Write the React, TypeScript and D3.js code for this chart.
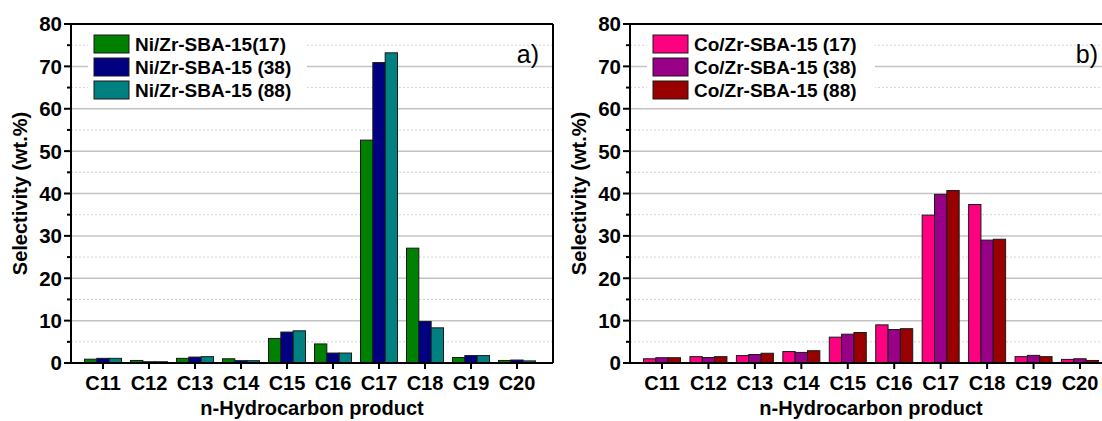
import * as d3 from 'd3'
import React from 'react'

// categories on the x axis
const categories = ['C11', 'C12', 'C13', 'C14', 'C15', 'C16', 'C17', 'C18', 'C19', 'C20']
const yTicks = [0, 10, 20, 30, 40, 50, 60, 70, 80]
const yMinorTicks = [5, 15, 25, 35, 45, 55, 65, 75]

// panel a) Ni catalysts
const niLabels = ['Ni/Zr-SBA-15(17)', 'Ni/Zr-SBA-15 (38)', 'Ni/Zr-SBA-15 (88)']
const ni17 = [0.9, 0.6, 1.1, 1.0, 5.8, 4.5, 52.6, 27.1, 1.3, 0.6]
const ni38 = [1.1, 0.3, 1.4, 0.55, 7.3, 2.35, 70.9, 9.8, 1.75, 0.7]
const ni88 = [1.1, 0.3, 1.5, 0.55, 7.6, 2.35, 73.2, 8.3, 1.75, 0.5]
const niColors = ['#008000', '#000080', '#008080']

// panel b) Co catalysts
const coLabels = ['Co/Zr-SBA-15 (17)', 'Co/Zr-SBA-15 (38)', 'Co/Zr-SBA-15 (88)']
const co17 = [1.0, 1.5, 1.75, 2.7, 6.1, 9.0, 34.9, 37.4, 1.5, 0.85]
const co38 = [1.25, 1.3, 2.0, 2.5, 6.8, 7.9, 39.8, 29.0, 1.8, 1.0]
const co88 = [1.25, 1.5, 2.3, 2.9, 7.2, 8.1, 40.7, 29.2, 1.5, 0.6]
const coColors = ['#ff0080', '#990088', '#990000']

const font = "Arial, 'Liberation Sans', sans-serif"

function Panel(props) {
  const { left, right, firstCat, lastCat, series, colors, labels, letter, letterX, legendW } = props
  const top = 24
  const bottom = 363
  const y = d3.scaleLinear().domain([0, 80]).range([bottom, top])
  const x = d3.scalePoint().domain(categories).range([firstCat, lastCat])
  const xs = d3.scaleBand().domain(d3.range(series.length)).range([-18.5, 18.5])

  return (
    <g>
      {/* gridlines */}
      {yMinorTicks.map(t => (
        <line key={'m' + t} x1={left} x2={right} y1={y(t)} y2={y(t)} stroke="#d4d4d4" strokeWidth={1} strokeDasharray="2,2" />
      ))}
      {yTicks.filter(t => t > 0 && t < 80).map(t => (
        <line key={'g' + t} x1={left} x2={right} y1={y(t)} y2={y(t)} stroke="#c4c4c4" strokeWidth={1.5} />
      ))}

      {/* legend background */}
      <rect x={left + 17} y={30} width={legendW} height={62} fill="white" />

      {/* bars */}
      {series.map((s, si) =>
        s.map((v, i) => (
          <rect
            key={si + '-' + i}
            x={x(categories[i]) + xs(si)}
            y={y(v)}
            width={xs.bandwidth()}
            height={bottom - y(v)}
            fill={colors[si]}
            stroke="#1a1a1a"
            strokeWidth={1}
          />
        ))
      )}

      {/* frame */}
      <line x1={left} x2={right} y1={top} y2={top} stroke="black" strokeWidth={2} />
      <line x1={right} x2={right} y1={top} y2={bottom} stroke="black" strokeWidth={2} />
      <line x1={left} x2={right} y1={bottom} y2={bottom} stroke="black" strokeWidth={2} />
      <line x1={left} x2={left} y1={top - 1} y2={bottom + 1} stroke="black" strokeWidth={2} />

      {/* y ticks */}
      {yTicks.map(t => (
        <g key={'yt' + t}>
          <line x1={left - 7} x2={left} y1={y(t)} y2={y(t)} stroke="black" strokeWidth={2} />
          <text x={left - 9} y={y(t)} dy="0.36em" textAnchor="end" fontSize={20.5} fontWeight="bold" fontFamily={font}>{t}</text>
        </g>
      ))}
      {yMinorTicks.map(t => (
        <line key={'ym' + t} x1={left - 4} x2={left} y1={y(t)} y2={y(t)} stroke="black" strokeWidth={2} />
      ))}

      {/* x ticks */}
      {categories.map(c => (
        <g key={'xt' + c}>
          <line x1={x(c)} x2={x(c)} y1={bottom} y2={bottom + 6} stroke="black" strokeWidth={2} />
          <text x={x(c)} y={390} textAnchor="middle" fontSize={20} fontWeight="bold" fontFamily={font}>{c}</text>
        </g>
      ))}

      <text x={(left + Math.min(right, 553 + left - 71)) / 2} y={415} textAnchor="middle" fontSize={20} fontWeight="bold" fontFamily={font}>
        n-Hydrocarbon product
      </text>
      <text transform={`translate(${left - 44},${(top + bottom) / 2}) rotate(-90)`} textAnchor="middle" fontSize={20} fontWeight="bold" fontFamily={font}>
        Selectivity (wt.%)
      </text>

      {/* legend */}
      {labels.map((l, i) => (
        <g key={'lg' + i}>
          <rect x={left + 23} y={35 + i * 23} width={35} height={18} fill={colors[i]} stroke="#1a1a1a" strokeWidth={1} />
          <text x={left + 64} y={44 + i * 23} dy="0.36em" fontSize={19} fontWeight="bold" fontFamily={font}>{l}</text>
        </g>
      ))}

      <text x={letterX} y={63} textAnchor="end" fontSize={25} fontFamily={font}>{letter}</text>
    </g>
  )
}

export default function App() {
  return (
    <svg width={1102} height={421} style={{ position: 'absolute', left: 0, top: 0, background: 'white' }}>
      <Panel
        left={71}
        right={553}
        firstCat={103}
        lastCat={517}
        series={[ni17, ni38, ni88]}
        colors={niColors}
        labels={niLabels}
        letter="a)"
        letterX={539}
        legendW={219}
      />
      <Panel
        left={630}
        right={1115}
        firstCat={662}
        lastCat={1080}
        series={[co17, co38, co88]}
        colors={coColors}
        labels={coLabels}
        letter="b)"
        letterX={1098}
        legendW={228}
      />
    </svg>
  )
}
